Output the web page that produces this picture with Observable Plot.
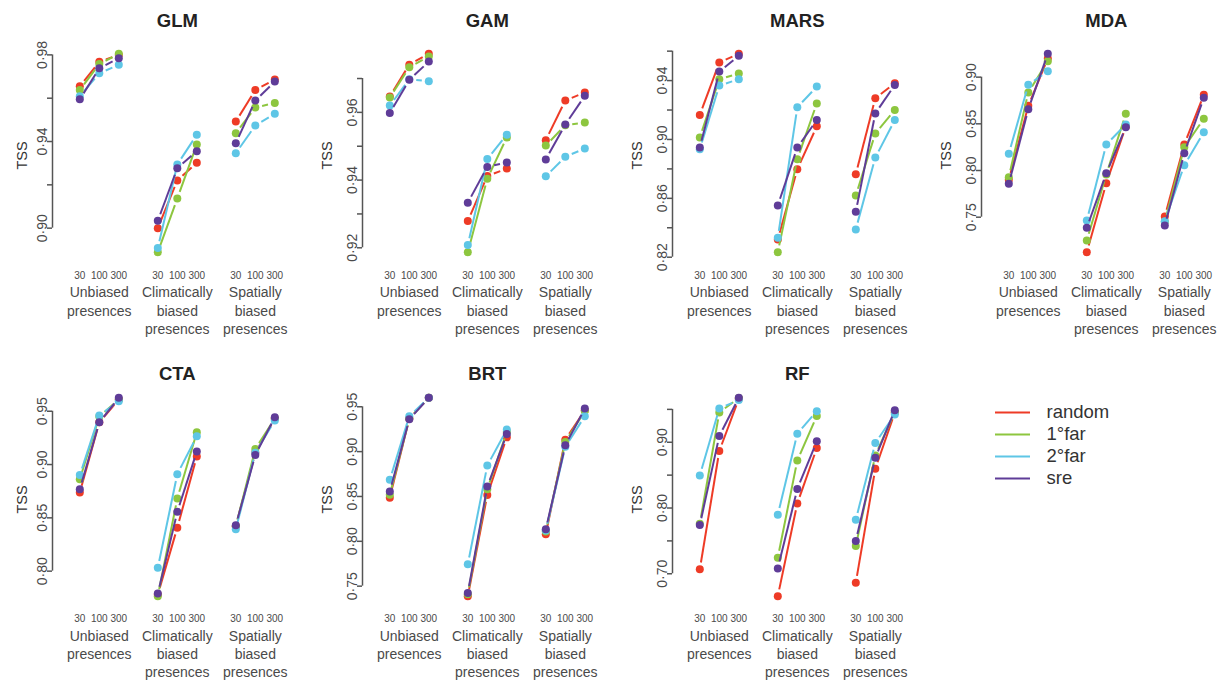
<!DOCTYPE html>
<html>
<head>
<meta charset="utf-8">
<script src="https://cdn.jsdelivr.net/npm/d3@7"></script>
<script src="https://cdn.jsdelivr.net/npm/@observablehq/plot@0.6"></script>
<style>
  html, body { margin: 0; padding: 0; background: #fff; }
  #chart { position: relative; width: 1218px; height: 680px; overflow: hidden; background: #fff;
           font-family: "Liberation Sans", Arial, Helvetica, sans-serif; }
  #chart > svg, #chart > div { position: absolute; }
</style>
</head>
<body>
<div id="chart"></div>
<script>
// ---------- data ----------
const models = ["GLM", "GAM", "MARS", "MDA", "CTA", "BRT", "RF"];
const methods = ["random", "1°far", "2°far", "sre"];
const methodColors = ["#ee3b26", "#8dc63f", "#5ec6e6", "#5f3c98"];
const sampleSizes = ["30", "100", "300"];
const biasGroups = ["Unbiased\npresences", "Climatically\nbiased\npresences", "Spatially\nbiased\npresences"];

// rows: random, 1°far, 2°far, sre
// columns: Unbiased 30/100/300, Climatically biased 30/100/300, Spatially biased 30/100/300
const tssGLM = [
  [0.9655, 0.9768, 0.9800, 0.9000, 0.9220, 0.9302, 0.9492, 0.9638, 0.9686],
  [0.9638, 0.9758, 0.9805, 0.8889, 0.9137, 0.9386, 0.9438, 0.9557, 0.9578],
  [0.9609, 0.9715, 0.9754, 0.8908, 0.9294, 0.9431, 0.9346, 0.9474, 0.9528],
  [0.9595, 0.9738, 0.9785, 0.9034, 0.9277, 0.9355, 0.9392, 0.9589, 0.9677]
];
const tssGAM = [
  [0.9647, 0.9741, 0.9773, 0.9279, 0.9412, 0.9434, 0.9518, 0.9635, 0.9659],
  [0.9644, 0.9733, 0.9765, 0.9187, 0.9404, 0.9526, 0.9502, 0.9562, 0.9570],
  [0.9620, 0.9698, 0.9692, 0.9208, 0.9462, 0.9534, 0.9411, 0.9469, 0.9493],
  [0.9598, 0.9696, 0.9750, 0.9333, 0.9439, 0.9452, 0.9461, 0.9564, 0.9649]
];
const tssMARS = [
  [0.9166, 0.9523, 0.9582, 0.8320, 0.8798, 0.9089, 0.8764, 0.9280, 0.9382],
  [0.9014, 0.9409, 0.9448, 0.8234, 0.8866, 0.9245, 0.8620, 0.9041, 0.9200],
  [0.8934, 0.9366, 0.9409, 0.8332, 0.9218, 0.9359, 0.8389, 0.8877, 0.9132],
  [0.8945, 0.9461, 0.9568, 0.8552, 0.8945, 0.9132, 0.8509, 0.9177, 0.9370]
];
const tssMDA = [
  [0.7900, 0.8693, 0.9200, 0.7125, 0.7864, 0.8471, 0.7507, 0.8279, 0.8811],
  [0.7929, 0.8836, 0.9171, 0.7250, 0.7957, 0.8607, 0.7450, 0.8250, 0.8554],
  [0.8179, 0.8918, 0.9064, 0.7464, 0.8279, 0.8493, 0.7457, 0.8057, 0.8411],
  [0.7857, 0.8657, 0.9250, 0.7386, 0.7971, 0.8464, 0.7411, 0.8186, 0.8779]
];
const tssCTA = [
  [0.8737, 0.9396, 0.9610, 0.7780, 0.8408, 0.9076, 0.8420, 0.9110, 0.9430],
  [0.8863, 0.9450, 0.9610, 0.7765, 0.8681, 0.9302, 0.8420, 0.9146, 0.9430],
  [0.8901, 0.9460, 0.9594, 0.8031, 0.8910, 0.9265, 0.8393, 0.9110, 0.9412],
  [0.8769, 0.9396, 0.9626, 0.7790, 0.8556, 0.9123, 0.8430, 0.9090, 0.9443]
];
const tssBRT = [
  [0.8487, 0.9370, 0.9600, 0.7388, 0.8517, 0.9159, 0.8080, 0.9133, 0.9460],
  [0.8520, 0.9370, 0.9600, 0.7410, 0.8580, 0.9220, 0.8110, 0.9107, 0.9452],
  [0.8685, 0.9395, 0.9600, 0.7743, 0.8845, 0.9246, 0.8120, 0.9054, 0.9395],
  [0.8554, 0.9361, 0.9600, 0.7425, 0.8610, 0.9196, 0.8135, 0.9070, 0.9481]
];
const tssRF = [
  [0.7067, 0.8866, 0.9660, 0.6659, 0.8070, 0.8911, 0.6862, 0.8596, 0.9450],
  [0.7760, 0.9453, 0.9672, 0.7245, 0.8723, 0.9401, 0.7424, 0.8800, 0.9460],
  [0.8494, 0.9514, 0.9642, 0.7898, 0.9131, 0.9473, 0.7821, 0.8988, 0.9422],
  [0.7740, 0.9095, 0.9676, 0.7082, 0.8290, 0.9014, 0.7500, 0.8764, 0.9488]
];

// y-axis ticks and labelled ticks per panel
const ticksGLM = [0.90, 0.92, 0.94, 0.96, 0.98];
const labelsGLM = [0.90, 0.94, 0.98];
const ticksGAM = [0.92, 0.93, 0.94, 0.95, 0.96, 0.97];
const labelsGAM = [0.92, 0.94, 0.96];
const ticksMARS = [0.82, 0.84, 0.86, 0.88, 0.90, 0.92, 0.94, 0.96];
const labelsMARS = [0.82, 0.86, 0.90, 0.94];
const ticksMDA = [0.75, 0.80, 0.85, 0.90];
const labelsMDA = [0.75, 0.80, 0.85, 0.90];
const ticksCTA = [0.80, 0.85, 0.90, 0.95];
const labelsCTA = [0.80, 0.85, 0.90, 0.95];
const ticksBRT = [0.75, 0.80, 0.85, 0.90, 0.95];
const labelsBRT = [0.75, 0.80, 0.85, 0.90, 0.95];
const ticksRF = [0.70, 0.75, 0.80, 0.85, 0.90, 0.95];
const labelsRF = [0.70, 0.80, 0.90];

// ---------- layout ----------
const panelValues = [tssGLM, tssGAM, tssMARS, tssMDA, tssCTA, tssBRT, tssRF];
const panelTicks = [ticksGLM, ticksGAM, ticksMARS, ticksMDA, ticksCTA, ticksBRT, ticksRF];
const panelLabels = [labelsGLM, labelsGAM, labelsMARS, labelsMDA, labelsCTA, labelsBRT, labelsRF];
const colAxisX = [52, 361.8, 672, 980.7];
const rowTop = [0, 344];
const titleDy = [-27.3, -18];
const sizeDy = [26.5, 25.5];
const catDy = [32, 31.5];
const tssDx = [-25.5, -30.5, -30.5, -30.5];

const FONT = "Liberation Sans, Arial, Helvetica, sans-serif";
const axisColor = "#555";
const textColor = "#4a4a4a";
const ML = 52, PW = 305, PH = 340, MT = 53.3, MB = 88.3;
const xDomain = [-0.4, 12.4];
const frameW = (xDomain[1] - xDomain[0]) * 19.5;
const fmt = d => d3.format(".2f")(d).replace(".", "\u00b7");

const chart = document.getElementById("chart");

function panel(idx) {
  const name = models[idx];
  const values = panelValues[idx];
  const ticks = panelTicks[idx];
  const labels = panelLabels[idx];
  const col = idx < 4 ? idx : idx - 4;
  const row = idx < 4 ? 0 : 1;

  const pts = [];
  methods.forEach((m, mi) => values[mi].forEach((v, k) => {
    const g = Math.floor(k / 3), s = k % 3;
    pts.push({method: m, g, s, x: 1 + 4 * g + s, v});
  }));
  const segs = [];
  pts.forEach((d, i) => {
    if (d.s < 2) {
      const e = pts[i + 1];
      segs.push({method: d.method, x1: d.x, y1: d.v, x2: e.x, y2: e.v});
    }
  });
  const xSizes = [0, 1, 2].flatMap(g => sampleSizes.map((s, k) => ({x: 1 + 4 * g + k, label: s})));
  const xCats = biasGroups.map((b, g) => ({x: 2 + 4 * g, label: b}));

  const seriesMarks = methods.flatMap((m, mi) => [
    Plot.arrow(segs.filter(d => d.method === m), {
      x1: "x1", y1: "y1", x2: "x2", y2: "y2",
      stroke: methodColors[mi], strokeWidth: 2, headLength: 0,
      insetStart: 7, insetEnd: 7, strokeLinecap: "butt"
    }),
    Plot.dot(pts.filter(d => d.method === m), {x: "x", y: "v", r: 4, fill: methodColors[mi], stroke: "none"})
  ]);

  const svg = Plot.plot({
    width: PW, height: PH,
    marginLeft: ML, marginRight: PW - ML - frameW, marginTop: MT, marginBottom: MB,
    style: {fontFamily: FONT, background: "transparent", overflow: "visible"},
    x: {domain: xDomain, axis: null},
    y: {domain: d3.extent(values.flat()), label: null},
    marks: [
      Plot.ruleX([xDomain[0]], {y1: ticks[0], y2: ticks[ticks.length - 1], stroke: axisColor, strokeWidth: 1.5}),
      Plot.axisY({ticks, tickSize: 5, tickFormat: () => "", label: null, stroke: axisColor, strokeWidth: 1.5}),
      Plot.text(labels, {y: d => d, frameAnchor: "left", text: fmt, rotate: -90, textAnchor: "middle",
        lineAnchor: "bottom", dx: -5.5, fontSize: 14, fill: textColor}),
      Plot.text(["TSS"], {frameAnchor: "left", text: d => d, rotate: -90, textAnchor: "middle",
        lineAnchor: "bottom", dx: tssDx[col], dy: 2.5, fontSize: 14.5, fill: "#333"}),
      Plot.text([name], {frameAnchor: "top", text: d => d, lineAnchor: "bottom", dy: titleDy[row],
        fontSize: 18.5, fontWeight: "bold", fill: "#222"}),
      Plot.text(xSizes, {x: "x", text: "label", frameAnchor: "bottom", lineAnchor: "bottom",
        dy: sizeDy[row], fontSize: 10, fill: textColor}),
      Plot.text(xCats, {x: "x", text: "label", frameAnchor: "bottom", lineAnchor: "top",
        lineHeight: 1.31, dy: catDy[row], fontSize: 14, fill: textColor}),
      ...seriesMarks
    ]
  });
  svg.style.left = (colAxisX[col] - ML) + "px";
  svg.style.top = rowTop[row] + "px";
  chart.appendChild(svg);
}

models.forEach((m, i) => panel(i));

// ---------- legend ----------
const legend = Plot.plot({
  width: 200, height: 110, margin: 0,
  style: {fontFamily: FONT, background: "transparent", overflow: "visible"},
  x: {domain: [0, 1], range: [35, 70], axis: null},
  y: {domain: methods, type: "point", padding: 0, range: [21.7, 89.3], axis: null},
  color: {domain: methods, range: methodColors},
  marks: [
    Plot.ruleY(methods, {y: d => d, x1: 0, x2: 1, stroke: d => d, strokeWidth: 2.2}),
    Plot.text(methods, {y: d => d, x: 1, dx: 16, text: d => d, textAnchor: "start", fontSize: 18.5, fill: "#333"})
  ]
});
legend.style.left = "960px";
legend.style.top = "390px";
chart.appendChild(legend);
</script>
</body>
</html>
